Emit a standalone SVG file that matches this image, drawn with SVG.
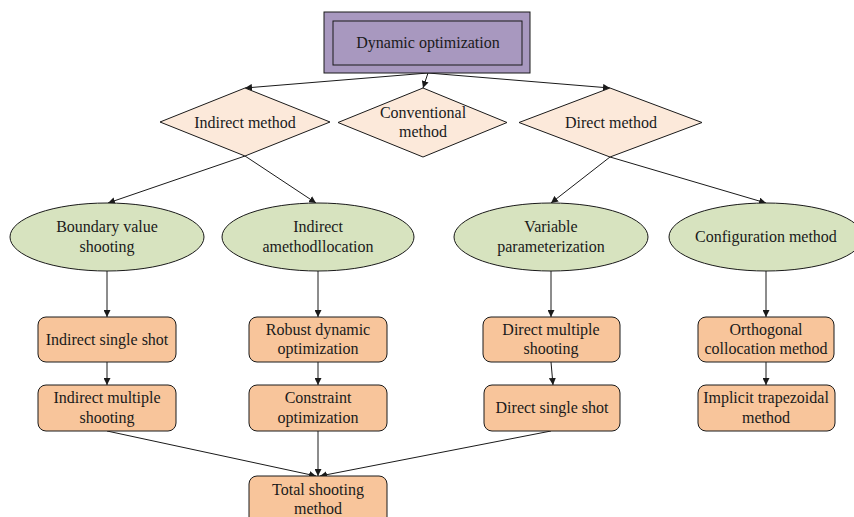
<svg xmlns="http://www.w3.org/2000/svg" width="854" height="517" viewBox="0 0 854 517">
<style>
text{font-size:16px;fill:#1a1a1a;text-anchor:middle}
.dia{fill:#fce9da;stroke:#1a1a1a;stroke-width:1}
.ell{fill:#d7e3bf;stroke:#1a1a1a;stroke-width:1}
.box{fill:#f8c59b;stroke:#1a1a1a;stroke-width:1}
.e{fill:none;stroke:#1a1a1a;stroke-width:1;marker-end:url(#ah)}
</style>
<defs>
<marker id="ah" viewBox="0 0 10 10" refX="10" refY="5" markerWidth="7" markerHeight="7" markerUnits="userSpaceOnUse" orient="auto">
<path d="M0,0 L10,5 L0,10 z" fill="#1a1a1a"/>
</marker>
</defs>
<rect width="854" height="517" fill="#fff"/>
<g id="connectors">
<path class="e" d="M428,73 L245,88"/>
<path class="e" d="M428,73 L423,88"/>
<path class="e" d="M428,73 L610,88"/>
<path class="e" d="M245,156 L108,203"/>
<path class="e" d="M245,156 L316,203"/>
<path class="e" d="M610,157 L551,203"/>
<path class="e" d="M610,157 L766,203"/>
<path class="e" d="M107,271 L107,317"/>
<path class="e" d="M318,271 L318,317"/>
<path class="e" d="M551,271 L551,317"/>
<path class="e" d="M766,271 L766,317"/>
<path class="e" d="M107,362 L107,385"/>
<path class="e" d="M318,362 L318,385"/>
<path class="e" d="M551,362 L553,385"/>
<path class="e" d="M766,362 L766,385"/>
<path class="e" d="M107,431 L316,476"/>
<path class="e" d="M318,431 L318,476"/>
<path class="e" d="M551,431 L320,476"/>
</g>
<g font-family="Liberation Serif, Times New Roman, DejaVu Serif, serif">
<g id="dynamic-optimization">
<rect x="324" y="12" width="206" height="61" fill="#a898bf" stroke="#1a1a1a"/>
<rect x="333" y="21" width="189" height="44" fill="#a898bf" stroke="#1a1a1a"/>
<text x="428" y="48">Dynamic optimization</text>
</g>
<g id="indirect-method">
<path class="dia" d="M245,88 L330,122 L245,156 L160,122 z"/>
<text x="245" y="128">Indirect method</text>
</g>
<g id="conventional-method">
<path class="dia" d="M423,88 L507,122.5 L423,157 L338,122.5 z"/>
<text x="423" y="118">Conventional</text>
<text x="423" y="137">method</text>
</g>
<g id="direct-method">
<path class="dia" d="M610,88 L702,122.5 L610,157 L519,122.5 z"/>
<text x="611" y="128">Direct method</text>
</g>
<g id="boundary-value-shooting">
<ellipse class="ell" cx="107" cy="237" rx="97" ry="34"/>
<text x="107" y="232">Boundary value</text>
<text x="107" y="252">shooting</text>
</g>
<g id="indirect-amethodllocation">
<ellipse class="ell" cx="318" cy="237" rx="96" ry="34"/>
<text x="318" y="232">Indirect</text>
<text x="318" y="252">amethodllocation</text>
</g>
<g id="variable-parameterization">
<ellipse class="ell" cx="551" cy="237" rx="97" ry="34"/>
<text x="551" y="232">Variable</text>
<text x="551" y="252">parameterization</text>
</g>
<g id="configuration-method">
<ellipse class="ell" cx="766" cy="237" rx="97" ry="34"/>
<text x="766" y="242">Configuration method</text>
</g>
<g id="indirect-single-shot">
<rect class="box" x="38" y="317" width="138" height="45" rx="8"/>
<text x="107" y="345">Indirect single shot</text>
</g>
<g id="robust-dynamic-optimization">
<rect class="box" x="249" y="317" width="138" height="45" rx="8"/>
<text x="318" y="335">Robust dynamic</text>
<text x="318" y="354">optimization</text>
</g>
<g id="direct-multiple-shooting">
<rect class="box" x="483" y="317" width="137" height="45" rx="8"/>
<text x="551" y="335">Direct multiple</text>
<text x="551" y="354">shooting</text>
</g>
<g id="orthogonal-collocation-method">
<rect class="box" x="698" y="317" width="136" height="45" rx="8"/>
<text x="766" y="335">Orthogonal</text>
<text x="766" y="354">collocation method</text>
</g>
<g id="indirect-multiple-shooting">
<rect class="box" x="38" y="385" width="138" height="46" rx="8"/>
<text x="107" y="403">Indirect multiple</text>
<text x="107" y="423">shooting</text>
</g>
<g id="constraint-optimization">
<rect class="box" x="249" y="385" width="138" height="46" rx="8"/>
<text x="318" y="403">Constraint</text>
<text x="318" y="423">optimization</text>
</g>
<g id="direct-single-shot">
<rect class="box" x="484" y="385" width="136" height="46" rx="8"/>
<text x="552" y="413">Direct single shot</text>
</g>
<g id="implicit-trapezoidal-method">
<rect class="box" x="698" y="385" width="137" height="46" rx="8"/>
<text x="766" y="403">Implicit trapezoidal</text>
<text x="766" y="423">method</text>
</g>
<g id="total-shooting-method">
<rect class="box" x="249" y="476" width="138" height="50" rx="8"/>
<text x="318" y="495">Total shooting</text>
<text x="318" y="514">method</text>
</g>
</g>
</svg>
